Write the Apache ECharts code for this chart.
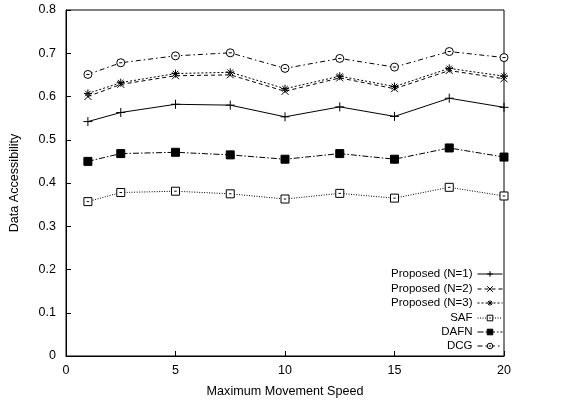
<!DOCTYPE html>
<html><head><meta charset="utf-8">
<script src="https://cdn.jsdelivr.net/npm/echarts@6/dist/echarts.min.js"></script>
<style>html,body{margin:0;padding:0;background:#fff}#c{width:582px;height:403px}</style>
</head><body><div id="c"></div>
<script>
const speeds = [1, 2.5, 5, 7.5, 10, 12.5, 15, 17.5, 20];
const seriesNames = ['Proposed (N=1)', 'Proposed (N=2)', 'Proposed (N=3)', 'SAF', 'DAFN', 'DCG'];
const proposedN1 = [0.542, 0.563, 0.582, 0.580, 0.553, 0.576, 0.554, 0.596, 0.575];
const proposedN2 = [0.600, 0.628, 0.648, 0.650, 0.612, 0.643, 0.618, 0.660, 0.641];
const proposedN3 = [0.607, 0.632, 0.653, 0.656, 0.618, 0.647, 0.623, 0.665, 0.647];
const saf = [0.357, 0.378, 0.381, 0.375, 0.363, 0.376, 0.365, 0.390, 0.370];
const dafn = [0.450, 0.468, 0.471, 0.465, 0.455, 0.468, 0.455, 0.481, 0.460];
const dcg = [0.651, 0.678, 0.694, 0.701, 0.665, 0.688, 0.668, 0.704, 0.690];
const xTicks = [0, 5, 10, 15, 20];
const yTicks = [0, 0.1, 0.2, 0.3, 0.4, 0.5, 0.6, 0.7, 0.8];

const values = [proposedN1, proposedN2, proposedN3, saf, dafn, dcg];
const symbols = [
  'path://M0,5L10,5M5,0L5,10',
  'path://M0,0L10,10M0,10L10,0',
  'path://M0,5L10,5M5,0L5,10M1.5,1.5L8.5,8.5M1.5,8.5L8.5,1.5',
  'path://M0,0L10,0L10,10L0,10ZM3.5,5L6.5,5',
  'rect',
  'path://M0,5A5,5,0,1,1,10,5A5,5,0,1,1,0,5ZM3,5L7,5'
];
const symSizes = [9, 7, 8, 8, 8, 8];
const dashes = ['solid', [4, 3], [2, 2], [1, 1.5], [6, 2, 1.5, 2], [5, 3, 1.5, 3]];
const fills = ['none', 'none', 'none', '#fff', '#000', '#fff'];
const F = 'Liberation Sans, Arial, Helvetica, sans-serif';

const series = seriesNames.map((n, i) => ({
  name: n, type: 'line',
  data: speeds.map((s, j) => [s, values[i][j]]),
  symbol: symbols[i], symbolSize: symSizes[i],
  lineStyle: { color: '#000', width: 1, type: dashes[i] },
  itemStyle: { color: fills[i], borderColor: '#000', borderWidth: 1 },
  emphasis: { disabled: true },
  animation: false, z: 3
}));

const legendTops = [268, 283, 297, 312, 326, 340];
const legends = seriesNames.map((n, i) => ({
  data: [n], right: 79, top: legendTops[i], orient: 'vertical', align: 'right',
  itemWidth: 25, itemHeight: 7, padding: 0,
  lineStyle: { color: '#000', width: 1, type: dashes[i] },
  itemStyle: { color: fills[i], borderColor: '#000', borderWidth: 1 },
  textStyle: { fontFamily: F, fontSize: 11.5, color: '#000' },
  selectedMode: false
}));

const chart = echarts.init(document.getElementById('c'), null, { renderer: 'canvas' });
chart.setOption({
  backgroundColor: '#fff',
  animation: false,
  grid: { left: 62, right: 78, top: 10, bottom: 46, show: true, borderColor: '#000', borderWidth: 1 },
  legend: legends,
  xAxis: {
    type: 'value', min: xTicks[0], max: xTicks[xTicks.length - 1], interval: 5,
    name: 'Maximum Movement Speed', nameLocation: 'middle', nameGap: 29,
    nameTextStyle: { fontFamily: F, fontSize: 12.6, color: '#000' },
    axisLine: { lineStyle: { color: '#000', width: 1 } },
    axisTick: { inside: true, length: 5, lineStyle: { color: '#000' } },
    axisLabel: { fontFamily: F, fontSize: 12.5, color: '#000', margin: 8 },
    splitLine: { show: false }
  },
  yAxis: {
    type: 'value', min: yTicks[0], max: yTicks[yTicks.length - 1], interval: 0.1,
    name: 'Data Accessibility', nameLocation: 'middle', nameGap: 45, nameRotate: 90,
    nameTextStyle: { fontFamily: F, fontSize: 12.6, color: '#000' },
    axisLine: { lineStyle: { color: '#000', width: 1 } },
    axisTick: { inside: true, length: 5, lineStyle: { color: '#000' } },
    axisLabel: { fontFamily: F, fontSize: 12.5, color: '#000', margin: 10,
      formatter: v => String(Math.round(v * 10) / 10) },
    splitLine: { show: false }
  },
  series: series
});
</script></body></html>
